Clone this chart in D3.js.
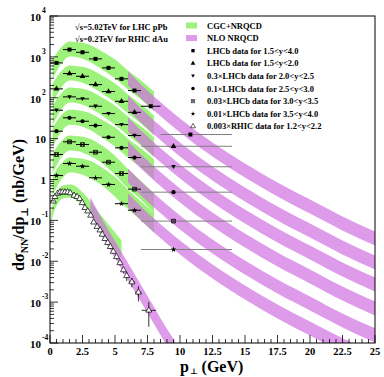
<!DOCTYPE html>
<html>
<head>
<meta charset="utf-8">
<script src="https://cdn.jsdelivr.net/npm/d3@7"></script>
<style>
  body { margin: 0; background: #fff; }
  text { font-family: "Liberation Serif", "DejaVu Serif", serif; font-weight: bold; }
</style>
</head>
<body>
<script>
// LHCb pPb 5.02 TeV, pT bins
const pt1 = [0.5, 1.5, 2.5, 3.5, 4.5, 5.5, 6.5, 7.75, 10.8];
const bin1Lo = [0, 1, 2, 3, 4, 5, 6, 7, 8.5];
const bin1Hi = [1, 2, 3, 4, 5, 6, 7, 8.5, 14];
const lhcb1 = [713, 1507, 1295, 893, 538, 290, 150, 62, 12.6];

const ptY = [0.5, 1.5, 2.5, 3.5, 4.5, 5.5, 6.5, 9.5];
const binYLo = [0, 1, 2, 3, 4, 5, 6, 7];
const binYHi = [1, 2, 3, 4, 5, 6, 7, 14];
const lhcb2 = [165, 391, 336, 210, 142, 82, 44, 6.5];
const lhcb3 = [49.5, 105, 94, 62, 41, 22, 11.9, 2.05];
const lhcb4 = [15.2, 32.3, 26.6, 20.9, 10.8, 5.96, 3.45, 0.49];
const lhcb5 = [4.09, 8.35, 7.17, 4.65, 2.65, 1.40, 0.58, 0.096];
const lhcb6 = [1.25, 2.46, 2.11, 1.10, 0.755, 0.256, 0.177, 0.0194];

// RHIC dAu 0.2 TeV
const ptRhic = [0.25, 0.38, 0.59, 0.77, 0.95, 1.15, 1.36, 1.56, 1.85, 2.08, 2.28, 2.48, 2.69, 2.9, 3.13,
  3.36, 3.62, 3.85, 4.02, 4.23, 4.44, 4.64, 4.87, 5.12, 5.38, 5.65, 5.9, 6.3, 6.8, 7.6];
const rhic = [0.294, 0.378, 0.455, 0.489, 0.489, 0.489, 0.489, 0.468, 0.406, 0.378, 0.337, 0.269, 0.203, 0.168, 0.132,
  0.090, 0.070, 0.0576, 0.0452, 0.0355, 0.0283, 0.0226, 0.0173, 0.0128, 0.0091, 0.0061, 0.0044, 0.0031, 0.00174, 0.00063];
const rhicErr = [0.018, 0.02, 0.022, 0.022, 0.022, 0.022, 0.022, 0.022, 0.02, 0.02, 0.018, 0.015, 0.012, 0.01, 0.008,
  0.006, 0.005, 0.0045, 0.0038, 0.0032, 0.0028, 0.0024, 0.002, 0.0016, 0.0013, 0.0011, 0.0011, 0.0008, 0.0007, 0.00038];
const rhicXErr = [0.1, 0.1, 0.1, 0.1, 0.1, 0.1, 0.1, 0.1, 0.1, 0.1, 0.1, 0.1, 0.1, 0.1, 0.1,
  0.1, 0.1, 0.1, 0.1, 0.1, 0.1, 0.1, 0.1, 0.1, 0.1, 0.12, 0.12, 0.25, 0.25, 0.55];

// CGC+NRQCD bands
const cgcPt = [0.2, 0.5, 1, 1.5, 2, 3, 4, 5, 6, 7, 8];
const cgc1Hi = [859, 1205, 1890, 2366, 2300, 2000, 1349, 859, 462, 263, 142];
const cgc1Lo = [279, 437, 768, 1017, 990, 768, 489, 294, 159, 90, 46];
const cgc2Hi = [222, 312, 490, 613, 596, 518, 349, 222, 120, 68, 37];
const cgc2Lo = [72, 113, 199, 263, 256, 199, 127, 76, 41, 23, 12];
const cgc3Hi = [64, 90, 142, 177, 172, 150, 101, 64, 35, 20, 10.6];
const cgc3Lo = [21, 33, 58, 76, 74, 58, 37, 22, 12, 6.8, 3.5];
const cgc4Hi = [18.6, 26, 41, 51, 50, 43, 29, 18.6, 10, 5.7, 3.1];
const cgc4Lo = [6.1, 9.5, 16.7, 22, 21.4, 16.7, 10.6, 6.4, 3.4, 1.95, 1.0];
const cgc5Hi = [4.3, 6.1, 9.5, 11.9, 11.6, 10.1, 6.8, 3.8, 1.8, 0.92, 0.47];
const cgc5Lo = [1.4, 2.2, 3.9, 5.1, 5.0, 3.9, 2.5, 1.3, 0.60, 0.32, 0.15];
const cgc6Hi = [1.25, 1.76, 2.76, 3.45, 3.36, 2.92, 1.97, 1.15, 0.56, 0.29, 0.15];
const cgc6Lo = [0.41, 0.64, 1.12, 1.48, 1.44, 1.12, 0.71, 0.38, 0.19, 0.10, 0.05];
const cgcRhicPt = [0.1, 0.3, 0.6, 1, 1.5, 2, 2.5, 3, 3.5, 4, 4.5, 5, 5.5];
const cgcRhicHi = [0.165, 0.324, 0.538, 0.713, 0.755, 0.675, 0.481, 0.324, 0.195, 0.125, 0.0794, 0.0506, 0.0323];
const cgcRhicLo = [0.084, 0.156, 0.259, 0.343, 0.363, 0.324, 0.231, 0.148, 0.089, 0.0535, 0.0323, 0.0194, 0.0117];

// NLO NRQCD bands
const nloPt = [6, 7, 8, 10, 12.5, 15, 17.5, 20, 22.5, 25];
const nlo1Hi = [437, 210, 107, 31.0, 8.03, 2.46, 0.845, 0.324, 0.125, 0.0535];
const nlo1Lo = [199, 95.6, 48.7, 14.1, 3.65, 1.12, 0.384, 0.147, 0.0566, 0.0243];
const nlo2Hi = [113, 54.4, 27.7, 8.03, 2.08, 0.638, 0.219, 0.084, 0.0323, 0.0139];
const nlo2Lo = [51.5, 24.8, 12.6, 3.65, 0.945, 0.290, 0.0995, 0.0382, 0.0147, 0.00631];
const nlo3Hi = [32.8, 15.8, 8.03, 2.33, 0.603, 0.185, 0.0634, 0.0243, 0.00935, 0.00402];
const nlo3Lo = [14.9, 7.17, 3.65, 1.06, 0.274, 0.084, 0.0288, 0.0111, 0.00425, 0.00183];
const nlo4Hi = [8.49, 4.09, 2.08, 0.603, 0.156, 0.0478, 0.0164, 0.00631, 0.00242, 0.00104];
const nlo4Lo = [3.86, 1.86, 0.945, 0.274, 0.0710, 0.0217, 0.00746, 0.00287, 0.00110, 0.000473];
const nlo5Hi = [1.86, 0.894, 0.455, 0.132, 0.0341, 0.0105, 0.00359, 0.00138, 0.000529, 0.000228];
const nlo5Lo = [0.845, 0.406, 0.207, 0.0599, 0.0155, 0.00475, 0.00163, 0.000627, 0.000241, 0.000103];
const nlo6Hi = [0.455, 0.219, 0.111, 0.0323, 0.00835, 0.00256, 0.000879, 0.000337, 0.000130, 0.0000557];
const nlo6Lo = [0.207, 0.0995, 0.0506, 0.0147, 0.00380, 0.00116, 0.000399, 0.000153, 0.0000589, 0.0000253];
const nloRhicPt = [3.1, 4, 5, 6, 7, 8, 9, 9.6];
const nloRhicHi = [0.373, 0.108, 0.0313, 0.00908, 0.00264, 0.000764, 0.000221, 0.000112];
const nloRhicLo = [0.143, 0.0416, 0.0120, 0.00349, 0.00101, 0.000293, 0.0000851, 0.0000432];

const xTicks = [0, 2.5, 5, 7.5, 10, 12.5, 15, 17.5, 20, 22.5, 25];
const yExps = [-4, -3, -2, -1, 0, 1, 2, 3, 4];

const legendLabels = ["CGC+NRQCD", "NLO NRQCD", "LHCb data for 1.5<y<4.0", "LHCb data for 1.5<y<2.0",
  "0.3\u00d7LHCb data for 2.0<y<2.5", "0.1\u00d7LHCb data for 2.5<y<3.0", "0.03\u00d7LHCb data for 3.0<y<3.5",
  "0.01\u00d7LHCb data for 3.5<y<4.0", "0.003\u00d7RHIC data for 1.2<y<2.2"];

const W = 384, H = 377;
const GREEN = "#9cf27a", PINK = "#d070e0", PINK_OP = 0.7;

const svg = d3.select("body").append("svg").attr("width", W).attr("height", H);
const x = d3.scaleLinear().domain([0, 25]).range([50, 375]);
const y = d3.scaleLog().domain([1e-4, 1e4]).range([343, 16]);

svg.append("clipPath").attr("id", "plot")
  .append("rect").attr("x", 50).attr("y", 16).attr("width", 325).attr("height", 327);
const g = svg.append("g").attr("clip-path", "url(#plot)");

const area = d3.area().x(d => x(d[0])).y0(d => y(d[1])).y1(d => y(d[2])).curve(d3.curveMonotoneX);
const band = (pts, lo, hi) => pts.map((p, i) => [p, lo[i], hi[i]]);

const cgcBands = [
  band(cgcPt, cgc1Lo, cgc1Hi), band(cgcPt, cgc2Lo, cgc2Hi), band(cgcPt, cgc3Lo, cgc3Hi),
  band(cgcPt, cgc4Lo, cgc4Hi), band(cgcPt, cgc5Lo, cgc5Hi), band(cgcPt, cgc6Lo, cgc6Hi),
  band(cgcRhicPt, cgcRhicLo, cgcRhicHi)
];
const nloBands = [
  band(nloPt, nlo1Lo, nlo1Hi), band(nloPt, nlo2Lo, nlo2Hi), band(nloPt, nlo3Lo, nlo3Hi),
  band(nloPt, nlo4Lo, nlo4Hi), band(nloPt, nlo5Lo, nlo5Hi), band(nloPt, nlo6Lo, nlo6Hi),
  band(nloRhicPt, nloRhicLo, nloRhicHi)
];

g.selectAll("path.cgc").data(cgcBands).enter().append("path")
  .attr("class", "cgc").attr("d", area).attr("fill", GREEN);
g.selectAll("path.nlo").data(nloBands).enter().append("path")
  .attr("class", "nlo").attr("d", area).attr("fill", PINK).attr("fill-opacity", PINK_OP);

// markers
const boxX = {
  draw(ctx, size) {
    const r = Math.sqrt(size) / 2;
    ctx.moveTo(-r, -r); ctx.lineTo(r, -r); ctx.lineTo(r, r); ctx.lineTo(-r, r); ctx.closePath();
    ctx.moveTo(-r, -r); ctx.lineTo(r, r); ctx.moveTo(r, -r); ctx.lineTo(-r, r);
  }
};
const triDown = {
  draw(ctx, size) {
    const r = Math.sqrt(size) * 0.6;
    ctx.moveTo(0, r); ctx.lineTo(r, -r * 0.75); ctx.lineTo(-r, -r * 0.75); ctx.closePath();
  }
};
const markers = [
  { type: d3.symbolSquare, size: 16, fill: true },
  { type: d3.symbolTriangle, size: 14, fill: true },
  { type: triDown, size: 14, fill: true },
  { type: d3.symbolCircle, size: 14, fill: true },
  { type: boxX, size: 14, fill: false },
  { type: d3.symbolStar, size: 10, fill: true },
  { type: d3.symbolTriangle, size: 16, fill: false }
];
const sym = m => d3.symbol().type(m.type).size(m.size)();

const series = [
  { pt: pt1, v: lhcb1, lo: bin1Lo, hi: bin1Hi },
  { pt: ptY, v: lhcb2, lo: binYLo, hi: binYHi },
  { pt: ptY, v: lhcb3, lo: binYLo, hi: binYHi },
  { pt: ptY, v: lhcb4, lo: binYLo, hi: binYHi },
  { pt: ptY, v: lhcb5, lo: binYLo, hi: binYHi },
  { pt: ptY, v: lhcb6, lo: binYLo, hi: binYHi }
];

series.forEach((s, k) => {
  const pts = s.pt.map((p, i) => ({ p, v: s.v[i], lo: s.lo[i], hi: s.hi[i] }));
  g.selectAll(null).data(pts).enter().append("line")
    .attr("x1", d => x(d.lo)).attr("x2", d => x(d.hi))
    .attr("y1", d => y(d.v)).attr("y2", d => y(d.v))
    .attr("stroke", d => d.hi - d.lo > 2 ? "#808080" : "#000").attr("stroke-width", 1);
  g.selectAll(null).data(pts).enter().append("path")
    .attr("transform", d => `translate(${x(d.p)},${y(d.v)})`)
    .attr("d", sym(markers[k]))
    .attr("fill", markers[k].fill ? "#000" : "none")
    .attr("stroke", "#000").attr("stroke-width", markers[k].fill ? 0 : 0.8);
});

const rhicPts = ptRhic.map((p, i) => ({ p, v: rhic[i], e: rhicErr[i], ex: rhicXErr[i] }));
g.selectAll(null).data(rhicPts).enter().append("line")
  .attr("x1", d => x(d.p)).attr("x2", d => x(d.p))
  .attr("y1", d => y(d.v - d.e)).attr("y2", d => y(d.v + d.e))
  .attr("stroke", "#000").attr("stroke-width", 0.8);
g.selectAll(null).data(rhicPts).enter().append("line")
  .attr("x1", d => x(d.p - d.ex)).attr("x2", d => x(d.p + d.ex))
  .attr("y1", d => y(d.v)).attr("y2", d => y(d.v))
  .attr("stroke", "#000").attr("stroke-width", 0.8);
g.selectAll(null).data(rhicPts).enter().append("path")
  .attr("transform", d => `translate(${x(d.p)},${y(d.v)})`)
  .attr("d", sym(markers[6])).attr("fill", "#fff").attr("stroke", "#000").attr("stroke-width", 0.7);

// frame
svg.append("rect").attr("x", 50).attr("y", 16).attr("width", 325).attr("height", 327)
  .attr("fill", "none").attr("stroke", "#000").attr("stroke-width", 1);

// x axis ticks (inside)
const xMinor = d3.range(0, 25.01, 0.5);
svg.selectAll(null).data(xMinor).enter().append("line")
  .attr("x1", d => x(d)).attr("x2", d => x(d))
  .attr("y1", 343).attr("y2", d => Math.abs(d / 2.5 - Math.round(d / 2.5)) < 1e-6 ? 335 : 339)
  .attr("stroke", "#000").attr("stroke-width", 0.8);
svg.selectAll(null).data(xTicks).enter().append("text")
  .attr("x", d => x(d)).attr("y", 355).attr("text-anchor", "middle")
  .attr("font-size", 10.5).text(d => d);

// y axis ticks (inside)
const yMinor = [];
yExps.slice(0, -1).forEach(e => { for (let m = 2; m <= 9; m++) yMinor.push(m * Math.pow(10, e)); });
svg.selectAll(null).data(yMinor).enter().append("line")
  .attr("x1", 50).attr("x2", 54).attr("y1", d => y(d)).attr("y2", d => y(d))
  .attr("stroke", "#000").attr("stroke-width", 0.8);
svg.selectAll(null).data(yExps).enter().append("line")
  .attr("x1", 50).attr("x2", 58).attr("y1", d => y(Math.pow(10, d))).attr("y2", d => y(Math.pow(10, d)))
  .attr("stroke", "#000").attr("stroke-width", 0.8);

yExps.forEach(e => {
  const yy = y(Math.pow(10, e));
  if (e === 0) {
    svg.append("text").attr("x", 46).attr("y", yy + 4).attr("text-anchor", "end").attr("font-size", 11).text("1");
  } else if (e === 1) {
    svg.append("text").attr("x", 46).attr("y", yy + 4).attr("text-anchor", "end").attr("font-size", 11).text("10");
  } else {
    svg.append("text").attr("x", 41).attr("y", yy + 5).attr("text-anchor", "end").attr("font-size", 11).text("10");
    svg.append("text").attr("x", 42).attr("y", yy - 3).attr("font-size", 7.5).text(e);
  }
});

// axis titles
const xt = svg.append("text").attr("x", 180).attr("y", 372).attr("font-size", 16);
xt.append("tspan").text("p");
xt.append("tspan").attr("font-size", 8).attr("dy", 2).attr("dx", 1).text("\u22a5");
xt.append("tspan").attr("dy", -2).attr("dx", 4).text("(GeV)");

const yt = svg.append("text").attr("transform", "translate(24,205) rotate(-90)")
  .attr("text-anchor", "middle").attr("font-size", 16);
yt.append("tspan").text("d\u03c3");
yt.append("tspan").attr("font-size", 10).attr("dy", 4).text("NN");
yt.append("tspan").attr("dy", -4).text("/dp");
yt.append("tspan").attr("font-size", 10).attr("dy", 4).text("\u22a5");
yt.append("tspan").attr("dy", -4).text(" (nb/GeV)");

// energy labels
svg.append("text").attr("x", 75).attr("y", 30).attr("font-size", 8.5).text("\u221as=5.02TeV for LHC pPb");
svg.append("text").attr("x", 75).attr("y", 42).attr("font-size", 8.5).text("\u221as=0.2TeV for RHIC dAu");

// legend
const legY = d3.range(9).map(i => 25.5 + i * 12.6);
legendLabels.forEach((lab, i) => {
  svg.append("text").attr("x", 207).attr("y", legY[i] + 3).attr("font-size", 8.5).text(lab);
  if (i < 2) {
    svg.append("rect").attr("x", 186).attr("y", legY[i] - 3).attr("width", 11).attr("height", 6)
      .attr("fill", i === 0 ? GREEN : PINK).attr("fill-opacity", i === 0 ? 1 : PINK_OP);
  } else {
    const m = markers[i - 2];
    svg.append("path").attr("transform", `translate(193,${legY[i]})`)
      .attr("d", d3.symbol().type(m.type).size(m.size * 0.7)())
      .attr("fill", m.fill ? "#000" : "none").attr("stroke", "#000").attr("stroke-width", m.fill ? 0 : 0.6);
  }
});
</script>
</body>
</html>
